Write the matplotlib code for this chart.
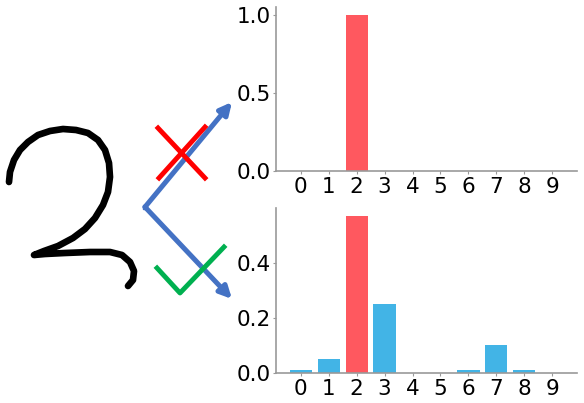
import matplotlib
matplotlib.use("Agg")
import matplotlib.pyplot as plt

digits = list(range(10))
target = [0, 0, 1.0, 0, 0, 0, 0, 0, 0, 0]
predicted = [0.01, 0.05, 0.57, 0.25, 0.0, 0.0, 0.01, 0.10, 0.01, 0.0]
true_label = 2

red = "#ff585f"
blue = "#42b4e6"

fig = plt.figure(figsize=(5.84, 4.03), dpi=100)

def style(ax):
    for s in ["top", "right"]:
        ax.spines[s].set_visible(False)
    for s in ["left", "bottom"]:
        ax.spines[s].set_color("#999999")
        ax.spines[s].set_linewidth(1.2)
    ax.tick_params(colors="#999999", labelcolor="black", labelsize=15.5,
                   length=2, pad=2)
    ax.set_xticks(digits)

ax1 = fig.add_axes([0.4726, 0.5757, 0.5154, 0.4069])
ax1.bar(digits, target, color=red)
ax1.set_yticks([0.0, 0.5, 1.0])
style(ax1)

ax2 = fig.add_axes([0.4726, 0.0744, 0.5154, 0.4094])
cols = [red if d == true_label else blue for d in digits]
ax2.bar(digits, predicted, color=cols)
ax2.set_yticks([0.0, 0.2, 0.4])
style(ax2)

# hand drawn sketch on the left (pixel coords)
ov = fig.add_axes([0, 0, 1, 1], zorder=-1)
ov.set_xlim(0, 584)
ov.set_ylim(403, 0)
ov.axis("off")

two_x = [9, 10, 14, 20, 28, 38, 50, 63, 76, 88, 98, 105, 109, 110, 108, 103,
         95, 85, 73, 58, 44, 34, 45, 65, 90, 110, 122, 130, 134, 133, 128]
two_y = [182, 172, 160, 150, 142, 135, 131, 129, 130, 133, 140, 150, 163, 177,
         192, 205, 218, 229, 238, 246, 251, 255, 254, 253, 252, 252, 255, 262,
         271, 280, 286]
ov.plot(two_x, two_y, color="black", lw=4.8, solid_capstyle="round",
        solid_joinstyle="round")

arrow = dict(arrowstyle="-|>,head_length=0.7,head_width=0.35", color="#4472c4",
             lw=3.6, shrinkA=0, shrinkB=0)
ov.annotate("", xy=(232, 102), xytext=(145, 207), arrowprops=arrow)
ov.annotate("", xy=(232, 299), xytext=(145, 207), arrowprops=arrow)
ov.plot([145], [207], "s", color="#4472c4", ms=3)

ov.plot([158, 205], [128, 178], color="#ff0000", lw=3.5, zorder=5)
ov.plot([205, 159], [127, 178], color="#ff0000", lw=3.5, zorder=5)
ov.plot([157, 180, 224], [268, 293, 247], color="#00b050", lw=3.5, zorder=5)

fig.savefig("out.png", dpi=100)
